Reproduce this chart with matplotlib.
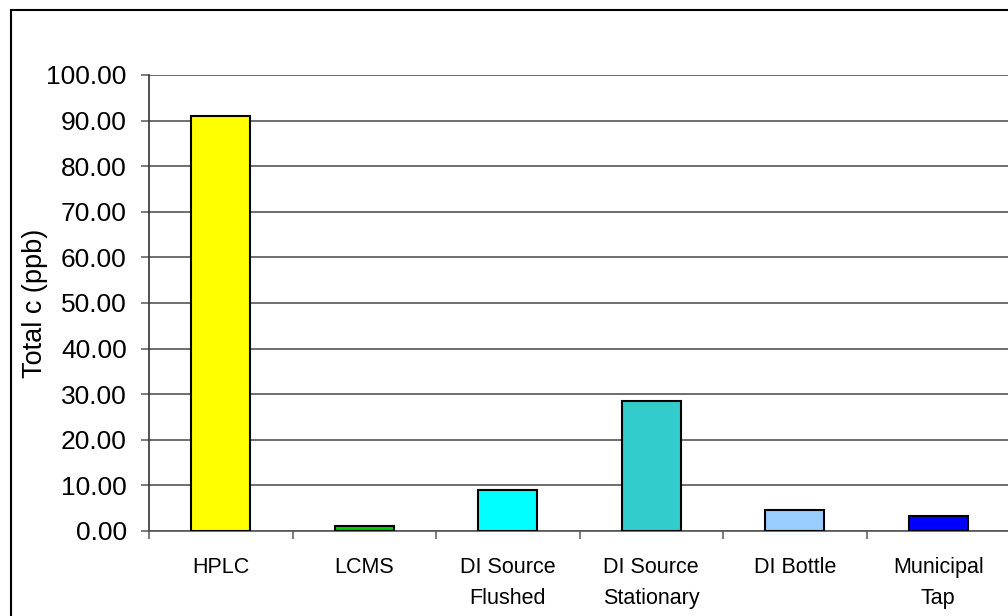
import matplotlib
matplotlib.use("Agg")
import matplotlib.pyplot as plt
from matplotlib.patches import Rectangle

# Sample categories and measured totals (ppb)
categories = ["HPLC", "LCMS", "DI Source\nFlushed", "DI Source\nStationary",
              "DI Bottle", "Municipal\nTap"]
totals = [91.0, 1.0, 8.9, 28.6, 4.7, 3.3]
bar_colors = ["#FFFF00", "#00CC00", "#00FFFF", "#33CCCC", "#99CCFF", "#0000FF"]
y_ticks = [0, 10, 20, 30, 40, 50, 60, 70, 80, 90, 100]

plt.rcParams['font.family'] = ['Liberation Sans', 'DejaVu Sans']

fig = plt.figure(figsize=(10.08, 6.16), dpi=100)
ax = fig.add_axes([149 / 1008, 1 - 531 / 616, 861 / 1008, 456 / 616])

# Chart border like a spreadsheet chart area
fig.patches.append(Rectangle((11 / 1008, -0.1), 1.2, 1 - 10 / 616 + 0.1,
                             transform=fig.transFigure, fill=False,
                             edgecolor="black", linewidth=1.5))

x = range(len(categories))
ax.bar(x, totals, width=0.41, color=bar_colors, edgecolor="black",
       linewidth=1.5, zorder=3)

ax.set_xlim(-0.5, len(categories) - 0.5)
ax.set_ylim(0, 100)
ax.set_yticks(y_ticks)
ax.set_yticklabels([f"{v:.2f}" for v in y_ticks], fontsize=19)
ax.yaxis.grid(True, color="#555555", linewidth=1.2, zorder=0)

# Category labels centred, tick marks between categories
ax.set_xticks(list(x))
ax.set_xticklabels(categories, fontsize=15.5, linespacing=1.62, va="top")
ax.tick_params(axis="x", length=0, pad=19)
ax.set_xticks([i - 0.5 for i in range(len(categories) + 1)], minor=True)
ax.tick_params(axis="x", which="minor", length=6, width=1.2, color="#666666",
               direction="out")
ax.tick_params(axis="y", length=6, width=1.2, color="#666666", pad=10)

for side in ["top", "right"]:
    ax.spines[side].set_visible(False)
ax.spines["left"].set_color("#333333")
ax.spines["left"].set_linewidth(1.2)
ax.spines["bottom"].set_color("#555555")
ax.spines["bottom"].set_linewidth(1.2)

ax.set_ylabel("Total c (ppb)", fontsize=19.5, va="center")
ax.yaxis.set_label_coords((35 - 149) / 861, 0.5)

fig.savefig("out.png", dpi=100)
